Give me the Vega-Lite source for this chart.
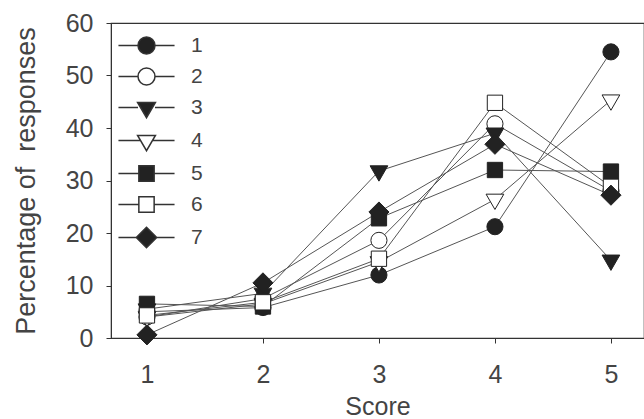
{
  "$schema": "https://vega.github.io/schema/vega-lite/v6.json",
  "width": 533,
  "height": 315,
  "autosize": {"type": "none"},
  "padding": {"left": 111, "top": 23, "right": 0, "bottom": 81},
  "background": "white",
  "config": {
    "view": {"stroke": "#333", "strokeWidth": 1.2},
    "font": "Liberation Sans",
    "axis": {"labelFont": "Liberation Sans", "titleFont": "Liberation Sans", "labelFontSize": 25, "titleFontSize": 26, "labelColor": "#444", "titleColor": "#444", "titleFontWeight": "normal", "domainColor": "#333", "tickColor": "#333", "grid": false, "tickSize": 5}
  },
  "data": {"values": [
    {"series": "1", "score": 1, "pct": 5}, {"series": "1", "score": 2, "pct": 5.8}, {"series": "1", "score": 3, "pct": 12}, {"series": "1", "score": 4, "pct": 21.2}, {"series": "1", "score": 5, "pct": 54.5},
    {"series": "2", "score": 1, "pct": 4}, {"series": "2", "score": 2, "pct": 7.5}, {"series": "2", "score": 3, "pct": 18.6}, {"series": "2", "score": 4, "pct": 40.8}, {"series": "2", "score": 5, "pct": 28},
    {"series": "3", "score": 1, "pct": 5.5}, {"series": "3", "score": 2, "pct": 8.5}, {"series": "3", "score": 3, "pct": 31.8}, {"series": "3", "score": 4, "pct": 39}, {"series": "3", "score": 5, "pct": 14.8},
    {"series": "4", "score": 1, "pct": 4}, {"series": "4", "score": 2, "pct": 6.5}, {"series": "4", "score": 3, "pct": 14.5}, {"series": "4", "score": 4, "pct": 26.4}, {"series": "4", "score": 5, "pct": 45.3},
    {"series": "5", "score": 1, "pct": 6.5}, {"series": "5", "score": 2, "pct": 6}, {"series": "5", "score": 3, "pct": 22.8}, {"series": "5", "score": 4, "pct": 32}, {"series": "5", "score": 5, "pct": 31.7},
    {"series": "6", "score": 1, "pct": 4.3}, {"series": "6", "score": 2, "pct": 6.8}, {"series": "6", "score": 3, "pct": 15.1}, {"series": "6", "score": 4, "pct": 44.8}, {"series": "6", "score": 5, "pct": 28.8},
    {"series": "7", "score": 1, "pct": 0.6}, {"series": "7", "score": 2, "pct": 10.5}, {"series": "7", "score": 3, "pct": 24}, {"series": "7", "score": 4, "pct": 36.9}, {"series": "7", "score": 5, "pct": 27.2}
  ]},
  "encoding": {
    "x": {"field": "score", "type": "quantitative", "scale": {"domain": [0.69, 5.285], "nice": false, "zero": false},
      "axis": {"values": [1, 2, 3, 4, 5], "title": "Score", "labelPadding": 19, "titlePadding": 7, "titleFontSize": 25}},
    "y": {"field": "pct", "type": "quantitative", "scale": {"domain": [0, 60], "nice": false},
      "axis": {"values": [0, 10, 20, 30, 40, 50, 60], "title": "Percentage of\u00a0 responses", "titleFontSize": 27, "labelPadding": 13, "titlePadding": 25}}
  },
  "layer": [
    {"mark": {"type": "line", "color": "#555", "strokeWidth": 1}, "encoding": {"detail": {"field": "series"}}},
    {"mark": {"type": "point", "filled": true, "stroke": "#222", "strokeWidth": 1, "opacity": 1, "size": 260},
      "encoding": {
        "shape": {"field": "series", "type": "nominal", "scale": {"domain": ["1","2","3","4","5","6","7"], "range": [
          "circle", "circle",
          "M-1.1,-0.65L1.1,-0.65L0,1.25Z", "M-1.1,-0.65L1.1,-0.65L0,1.25Z",
          "M-0.95,-0.95H0.95V0.95H-0.95Z", "M-0.95,-0.95H0.95V0.95H-0.95Z",
          "M0,-1.25L1.25,0L0,1.25L-1.25,0Z"]}, "legend": null},
        "fill": {"field": "series", "type": "nominal", "scale": {"domain": ["1","2","3","4","5","6","7"], "range": ["#222","white","#222","white","#222","white","#222"]}, "legend": null}
      }},
    {"transform": [{"filter": "false"}],
     "mark": {"type": "point", "filled": true, "stroke": "#333", "strokeWidth": 1, "opacity": 1, "size": 289},
      "encoding": {
        "shape": {"field": "series", "type": "nominal",
          "scale": {"domain": ["1","2","3","4","5","6","7"], "range": [
            "M-3.3,0L-1,0M1,0A1,1 0 1 1 -1,0A1,1 0 1 1 1,0M1,0L3.3,0",
            "M-3.3,0L-1,0M1,0A1,1 0 1 1 -1,0A1,1 0 1 1 1,0M1,0L3.3,0",
            "M-3.3,0L-1,0M-1.05,-0.6L1.05,-0.6L0,1.2ZM1,0L3.3,0",
            "M-3.3,0L-0.7,0M-1.05,-0.6L1.05,-0.6L0,1.2ZM0.7,0L3.3,0",
            "M-3.3,0L-0.9,0M-0.9,-0.9H0.9V0.9H-0.9ZM0.9,0L3.3,0",
            "M-3.3,0L-0.9,0M-0.9,-0.9H0.9V0.9H-0.9ZM0.9,0L3.3,0",
            "M-3.3,0L-1.2,0M0,-1.2L1.2,0L0,1.2L-1.2,0ZM1.2,0L3.3,0"
          ]},
          "legend": {"orient": "none", "legendX": 25, "legendY": 12, "title": null, "symbolSize": 289, "labelFontSize": 21, "labelFont": "Liberation Sans", "labelColor": "#444", "labelOffset": 34, "rowPadding": 8}},
        "fill": {"field": "series", "type": "nominal", "scale": {"domain": ["1","2","3","4","5","6","7"], "range": ["#222","white","#222","white","#222","white","#222"]},
          "legend": {"orient": "none", "legendX": 25, "legendY": 12, "title": null, "symbolSize": 289, "labelFontSize": 21, "labelFont": "Liberation Sans", "labelColor": "#444", "labelOffset": 34, "rowPadding": 8}}
      }}
  ],
  "resolve": {"scale": {"shape": "independent", "fill": "independent"}, "legend": {"shape": "independent", "fill": "independent"}}
}
